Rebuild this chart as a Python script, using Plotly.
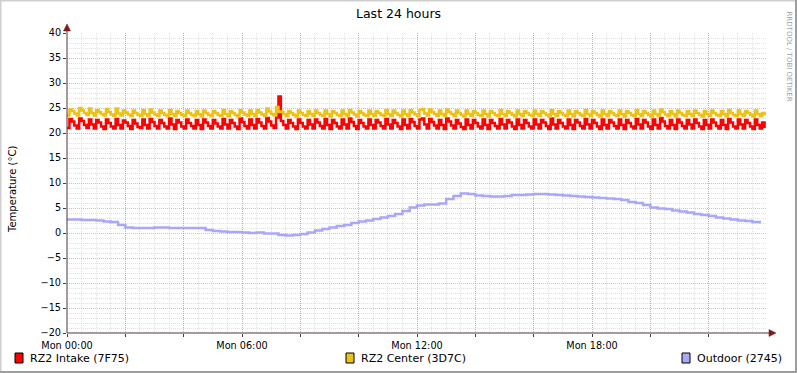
import plotly.graph_objects as go

# ---------------- data ----------------
title_text = "Last 24 hours"
y_title = "Temperature (°C)"
watermark = "RRDTOOL / TOBI OETIKER"

x_tick_vals = [0, 2, 4, 6, 8, 10, 12, 14, 16, 18, 20, 22]
x_tick_text = ["Mon 00:00", "", "", "Mon 06:00", "", "", "Mon 12:00", "", "", "Mon 18:00", "", ""]

series_names = ["RZ2 Intake (7F75)", "RZ2 Center (3D7C)", "Outdoor (2745)"]
series_colors = ["#FF0000", "#ECC11A", "#A8A8F8"]

# RZ2 Intake, one reading every 5 minutes (12 per hour)
intake = [
    21.0, 22.8, 22.3, 21.5, 20.9, 22.9, 22.4, 21.6, 21.0, 22.7, 21.7, 20.9,
    22.6, 22.1, 21.3, 20.8, 22.7, 22.0, 21.3, 20.9, 22.8, 21.6, 20.9, 22.5,
    22.1, 21.4, 20.8, 22.6, 21.9, 21.2, 21.0, 22.7, 21.6, 20.9, 22.8, 22.2,
    21.4, 20.9, 22.6, 22.0, 21.3, 20.9, 22.9, 21.7, 20.8, 22.6, 22.1, 21.3,
    20.9, 22.7, 22.0, 21.4, 20.9, 22.6, 21.6, 20.8, 22.7, 22.1, 21.4, 20.9,
    22.6, 21.9, 21.3, 20.9, 22.8, 21.7, 20.9, 22.6, 22.0, 21.3, 20.8, 22.9,
    22.2, 21.4, 20.9, 22.7, 21.6, 20.9, 22.8, 22.1, 21.4, 20.9, 23.0, 22.3,
    21.5, 21.0, 23.1, 27.3, 22.4, 21.6, 20.9, 22.6, 22.0, 21.3, 20.8, 22.7,
    22.0, 21.3, 20.9, 22.6, 21.7, 20.9, 22.7, 22.1, 21.4, 20.9, 22.8, 21.6,
    20.8, 22.6, 22.0, 21.3, 20.9, 22.7, 21.7, 20.9, 22.9, 22.2, 21.4, 20.8,
    22.6, 22.0, 21.3, 20.9, 22.7, 21.6, 20.9, 22.6, 22.1, 21.4, 20.9, 22.8,
    21.7, 20.9, 22.6, 22.0, 21.3, 20.8, 22.7, 21.6, 20.9, 22.8, 22.2, 21.4,
    20.9, 22.7, 22.9, 21.7, 20.9, 22.8, 22.2, 21.5, 20.9, 22.6, 21.6, 20.8,
    22.9, 22.3, 21.5, 20.9, 22.6, 21.9, 21.2, 20.8, 22.7, 21.6, 20.9, 22.6,
    22.0, 21.3, 20.9, 22.7, 21.6, 20.8, 22.6, 22.0, 21.4, 20.9, 22.8, 21.7,
    20.9, 22.6, 22.1, 21.3, 20.8, 22.7, 21.6, 20.9, 22.6, 22.0, 21.3, 20.9,
    22.7, 21.7, 20.9, 22.6, 22.1, 21.4, 20.8, 22.9, 21.7, 20.9, 22.6, 22.0,
    21.3, 20.9, 22.7, 21.6, 20.8, 22.6, 22.1, 21.4, 20.9, 22.8, 21.7, 20.9,
    22.6, 22.0, 21.3, 20.8, 22.7, 21.6, 20.9, 22.6, 22.1, 21.4, 20.9, 22.7,
    21.6, 20.8, 22.6, 22.0, 21.3, 20.9, 22.8, 21.7, 20.9, 22.6, 22.1, 21.3,
    20.8, 22.7, 21.6, 20.9, 23.0, 22.3, 21.4, 20.9, 22.6, 21.6, 20.8, 22.7,
    22.1, 21.4, 20.9, 22.6, 21.7, 20.9, 22.7, 22.0, 21.3, 20.8, 22.6, 21.6,
    20.9, 22.7, 22.1, 21.4, 20.9, 22.6, 21.6, 20.8, 22.8, 22.1, 21.3, 20.9,
    22.7, 21.7, 20.9, 22.6, 22.0, 21.3, 20.8, 22.7, 21.6, 20.9, 22.1, 21.0,
]

# RZ2 Center, one reading every 5 minutes
center = [
    23.5, 24.7, 24.4, 23.9, 23.5, 25.0, 24.5, 24.0, 23.6, 24.9, 24.0, 23.5,
    24.6, 24.2, 23.8, 23.5, 24.8, 24.2, 23.7, 23.4, 24.9, 23.9, 23.5, 24.5,
    24.1, 23.7, 23.4, 24.5, 24.0, 23.6, 23.4, 24.6, 23.8, 23.4, 24.7, 24.1,
    23.7, 23.4, 24.5, 24.0, 23.6, 23.4, 24.6, 23.8, 23.4, 24.4, 24.0, 23.6,
    23.4, 24.5, 24.0, 23.6, 23.4, 24.4, 23.8, 23.3, 24.5, 24.0, 23.6, 23.4,
    24.4, 24.0, 23.6, 23.4, 24.6, 23.8, 23.4, 24.4, 24.0, 23.6, 23.3, 24.6,
    24.1, 23.7, 23.4, 24.5, 23.8, 23.4, 24.6, 24.1, 23.7, 23.4, 24.9, 24.3,
    23.8, 23.5, 25.2, 24.2, 24.3, 23.8, 23.4, 24.4, 24.0, 23.6, 23.3, 24.5,
    24.0, 23.6, 23.4, 24.4, 23.8, 23.4, 24.5, 24.0, 23.6, 23.4, 24.5, 23.8,
    23.3, 24.4, 24.0, 23.6, 23.4, 24.5, 23.8, 23.4, 24.6, 24.1, 23.7, 23.3,
    24.4, 24.0, 23.6, 23.4, 24.5, 23.8, 23.4, 24.4, 24.0, 23.6, 23.4, 24.6,
    23.8, 23.4, 24.5, 24.0, 23.6, 23.3, 24.5, 23.8, 23.4, 24.6, 24.1, 23.7,
    23.4, 24.6, 24.8, 23.9, 23.5, 24.7, 24.2, 23.8, 23.4, 24.5, 23.8, 23.4,
    24.7, 24.2, 23.8, 23.4, 24.5, 24.0, 23.6, 23.3, 24.5, 23.8, 23.4, 24.4,
    24.0, 23.6, 23.4, 24.5, 23.8, 23.3, 24.4, 24.0, 23.6, 23.4, 24.6, 23.8,
    23.4, 24.4, 24.0, 23.6, 23.3, 24.5, 23.8, 23.4, 24.4, 24.0, 23.6, 23.4,
    24.5, 23.8, 23.4, 24.4, 24.0, 23.6, 23.3, 24.6, 23.8, 23.4, 24.4, 24.0,
    23.6, 23.4, 24.5, 23.8, 23.3, 24.4, 24.0, 23.6, 23.4, 24.6, 23.8, 23.4,
    24.4, 24.0, 23.6, 23.3, 24.5, 23.8, 23.4, 24.4, 24.0, 23.6, 23.4, 24.5,
    23.8, 23.3, 24.4, 24.0, 23.6, 23.4, 24.6, 23.8, 23.4, 24.4, 24.0, 23.6,
    23.3, 24.5, 23.8, 23.4, 24.7, 24.2, 23.7, 23.4, 24.4, 23.8, 23.3, 24.5,
    24.0, 23.6, 23.4, 24.4, 23.8, 23.4, 24.5, 24.0, 23.6, 23.3, 24.4, 23.8,
    23.4, 24.5, 24.0, 23.6, 23.4, 24.4, 23.8, 23.3, 24.6, 24.0, 23.6, 23.4,
    24.5, 23.8, 23.4, 24.4, 24.0, 23.6, 23.3, 24.5, 23.8, 23.4, 24.0, 23.5,
]

# Outdoor, one reading every 15 minutes (4 per hour)
outdoor = [
    2.7, 2.7, 2.6, 2.6,
    2.5, 2.3, 2.2, 1.6,
    1.1, 1.0, 1.0, 1.0,
    1.1, 1.1, 1.0, 1.0,
    1.0, 1.0, 1.0, 0.6,
    0.4, 0.3, 0.2, 0.2,
    0.1, 0.0, 0.1, -0.1,
    -0.1, -0.4, -0.5, -0.4,
    -0.2, 0.1, 0.5, 0.8,
    1.1, 1.4, 1.6, 2.0,
    2.3, 2.5, 2.8, 3.1,
    3.4, 3.8, 4.4, 5.1,
    5.5, 5.7, 5.7, 5.9,
    6.8, 7.4, 7.9, 7.8,
    7.5, 7.4, 7.3, 7.3,
    7.4, 7.6, 7.6, 7.7,
    7.8, 7.8, 7.7, 7.6,
    7.5, 7.4, 7.3, 7.2,
    7.1, 7.0, 6.9, 6.8,
    6.6, 6.2, 6.0, 5.6,
    5.1, 4.9, 4.8, 4.5,
    4.3, 4.1, 3.8, 3.6,
    3.4, 3.1, 2.9, 2.7,
    2.5, 2.4, 2.2, 1.9,
]

t_fast = [i * 5 / 60 for i in range(len(intake))]     # hours since Mon 00:00
t_slow = [i * 15 / 60 for i in range(len(outdoor))]

# ---------------- layout geometry (pixels) ----------------
W, H = 797, 373
PL, PT, PW, PH = 67, 33, 700, 300   # plot area left/top/width/height

def px(x):
    return (x - PL) / PW

def py(y):
    return (PT + PH - y) / PH

FONT = "DejaVu Sans"
AXIS_COL = "#4A3A3A"
ARROW_COL = "#7F1A1A"
MAJ = "rgba(225,120,120,0.55)"
MIN = "rgba(170,170,170,0.35)"

fig = go.Figure()
for name, ys, xs, col in [
    (series_names[0], intake, t_fast, series_colors[0]),
    (series_names[1], center, t_fast, series_colors[1]),
    (series_names[2], outdoor, t_slow, series_colors[2]),
]:
    fig.add_trace(go.Scatter(x=xs, y=ys, mode="lines", name=name,
                             line=dict(color=col, width=2.5, shape="hv"),
                             showlegend=False, hoverinfo="skip"))

shapes = []
# canvas border (3D shade)
shapes += [
    dict(type="line", xref="paper", yref="paper", x0=px(0), x1=px(W), y0=py(0.5), y1=py(0.5),
         line=dict(color="#CFCFCF", width=2)),
    dict(type="line", xref="paper", yref="paper", x0=px(0.5), x1=px(0.5), y0=py(0), y1=py(H),
         line=dict(color="#CFCFCF", width=2)),
    dict(type="line", xref="paper", yref="paper", x0=px(0), x1=px(W), y0=py(H - 1), y1=py(H - 1),
         line=dict(color="#9E9E9E", width=2)),
    dict(type="line", xref="paper", yref="paper", x0=px(W - 1), x1=px(W - 1), y0=py(0), y1=py(H),
         line=dict(color="#9E9E9E", width=2)),
]
# axes with arrows
shapes += [
    dict(type="line", xref="paper", yref="paper", x0=px(67), x1=px(67), y0=py(333), y1=py(28),
         line=dict(color=AXIS_COL, width=1)),
    dict(type="line", xref="paper", yref="paper", x0=px(67), x1=px(771), y0=py(333), y1=py(333),
         line=dict(color=AXIS_COL, width=1)),
    dict(type="path", xref="paper", yref="paper",
         path=f"M {px(67)},{py(24)} L {px(63.5)},{py(31)} L {px(70.5)},{py(31)} Z",
         fillcolor=ARROW_COL, line=dict(color=ARROW_COL, width=0.5)),
    dict(type="path", xref="paper", yref="paper",
         path=f"M {px(776)},{py(333)} L {px(769)},{py(329.5)} L {px(769)},{py(336.5)} Z",
         fillcolor=ARROW_COL, line=dict(color=ARROW_COL, width=0.5)),
]
# legend boxes
legend_pos = [(15, 28), (346, 359), (682, 695)]
for (bx, tx), col in zip(legend_pos, series_colors):
    shapes.append(dict(type="rect", xref="paper", yref="paper",
                       x0=px(bx), x1=px(bx + 8), y0=py(353), y1=py(363),
                       fillcolor=col, line=dict(color="#000000", width=1)))

annotations = [
    dict(text=title_text, xref="paper", yref="paper", x=px(398.5), y=py(13),
         xanchor="center", yanchor="middle", showarrow=False,
         font=dict(family=FONT, size=12.5, color="#000")),
    dict(text=y_title, xref="paper", yref="paper", x=px(12), y=py(190),
         xanchor="center", yanchor="middle", textangle=-90, showarrow=False,
         font=dict(family=FONT, size=10, color="#000")),
    dict(text=watermark, xref="paper", yref="paper", x=px(788.5), y=py(56),
         xanchor="center", yanchor="middle", textangle=90, showarrow=False,
         font=dict(family=FONT, size=7, color="#A0A0A0")),
]
for (bx, tx), name in zip(legend_pos, series_names):
    annotations.append(dict(text=name, xref="paper", yref="paper", x=px(tx), y=py(358.5),
                            xanchor="left", yanchor="middle", showarrow=False,
                            font=dict(family=FONT, size=11, color="#000")))

fig.update_layout(
    width=W, height=H, autosize=False,
    margin=dict(l=PL, r=W - PL - PW, t=PT, b=H - PT - PH, pad=0),
    paper_bgcolor="#FFFFFF", plot_bgcolor="#FFFFFF",
    font=dict(family=FONT, size=10, color="#000"),
    shapes=shapes, annotations=annotations,
    xaxis=dict(range=[0, 24], tickmode="array", tickvals=x_tick_vals, ticktext=x_tick_text,
               showgrid=True, gridcolor=MAJ, griddash="1px,1px", gridwidth=1,
               ticks="outside", ticklen=3, tickcolor=AXIS_COL, showline=False, zeroline=False,
               tickfont=dict(family=FONT, size=9.7, color="#000"),
               minor=dict(tickmode="linear", tick0=0, dtick=0.5, showgrid=True,
                          gridcolor=MIN, griddash="1px,1px", gridwidth=1)),
    yaxis=dict(range=[-20, 40], tickmode="linear", tick0=0, dtick=5,
               showgrid=True, gridcolor=MAJ, griddash="1px,1px", gridwidth=1,
               ticks="outside", ticklen=3, tickcolor=AXIS_COL, showline=False, zeroline=False,
               tickfont=dict(family=FONT, size=9.7, color="#000"),
               minor=dict(tickmode="linear", tick0=0, dtick=1, showgrid=True,
                          gridcolor=MIN, griddash="1px,1px", gridwidth=1)),
)

fig.write_html("out.html", config={"displayModeBar": False},
               post_script="document.body.style.margin='0';")
